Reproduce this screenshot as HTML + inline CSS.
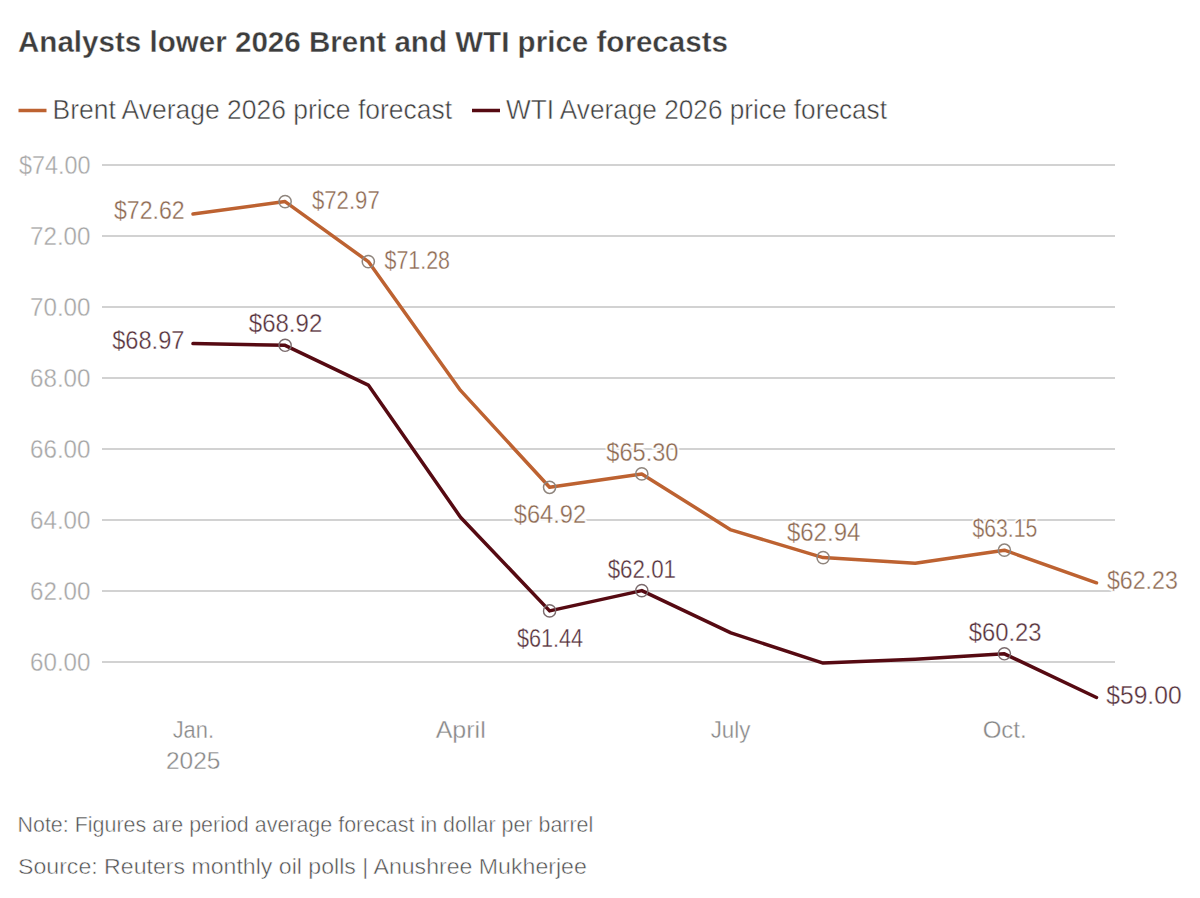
<!DOCTYPE html><html><head><meta charset="utf-8"><style>html,body{margin:0;padding:0;background:#fff;width:1200px;height:898px;overflow:hidden}svg{display:block}text{font-family:"Liberation Sans",sans-serif}</style></head><body>
<svg width="1200" height="898" viewBox="0 0 1200 898">
<rect width="1200" height="898" fill="#fff"/>
<line x1="102" y1="662.0" x2="1115" y2="662.0" stroke="#d2d2d2" stroke-width="2"/>
<line x1="102" y1="591.0" x2="1115" y2="591.0" stroke="#d2d2d2" stroke-width="2"/>
<line x1="102" y1="520.0" x2="1115" y2="520.0" stroke="#d2d2d2" stroke-width="2"/>
<line x1="102" y1="449.0" x2="1115" y2="449.0" stroke="#d2d2d2" stroke-width="2"/>
<line x1="102" y1="378.0" x2="1115" y2="378.0" stroke="#d2d2d2" stroke-width="2"/>
<line x1="102" y1="307.0" x2="1115" y2="307.0" stroke="#d2d2d2" stroke-width="2"/>
<line x1="102" y1="236.0" x2="1115" y2="236.0" stroke="#d2d2d2" stroke-width="2"/>
<line x1="102" y1="165.0" x2="1115" y2="165.0" stroke="#d2d2d2" stroke-width="2"/>
<line x1="18.5" y1="110.5" x2="46.5" y2="110.5" stroke="#bd6231" stroke-width="3.5"/>
<line x1="472" y1="110.5" x2="500" y2="110.5" stroke="#560a12" stroke-width="3.5"/>
<polyline points="193.0,343.6 285.1,345.3 368.3,385.1 460.5,517.2 549.6,610.9 641.8,590.6 730.9,632.9 823.1,663.1 915.2,659.2 1004.4,653.8 1096.5,697.5" fill="none" stroke="#560a12" stroke-width="3.5" stroke-linejoin="round" stroke-linecap="round"/>
<polyline points="193.0,214.0 285.1,201.6 368.3,261.6 460.5,390.4 549.6,487.3 641.8,473.9 730.9,529.9 823.1,557.6 915.2,563.3 1004.4,550.2 1096.5,582.8" fill="none" stroke="#bd6231" stroke-width="3.5" stroke-linejoin="round" stroke-linecap="round"/>
<circle cx="285.1" cy="201.6" r="6.1" fill="none" stroke="#8f857d" stroke-width="1.5"/>
<circle cx="368.3" cy="261.6" r="6.1" fill="none" stroke="#8f857d" stroke-width="1.5"/>
<circle cx="549.6" cy="487.3" r="6.1" fill="none" stroke="#8f857d" stroke-width="1.5"/>
<circle cx="641.8" cy="473.9" r="6.1" fill="none" stroke="#8f857d" stroke-width="1.5"/>
<circle cx="823.1" cy="557.6" r="6.1" fill="none" stroke="#8f857d" stroke-width="1.5"/>
<circle cx="1004.4" cy="550.2" r="6.1" fill="none" stroke="#8f857d" stroke-width="1.5"/>
<circle cx="285.1" cy="345.3" r="6.1" fill="none" stroke="#7a6a6c" stroke-width="1.4"/>
<circle cx="549.6" cy="610.9" r="6.1" fill="none" stroke="#7a6a6c" stroke-width="1.4"/>
<circle cx="641.8" cy="590.6" r="6.1" fill="none" stroke="#7a6a6c" stroke-width="1.4"/>
<circle cx="1004.4" cy="653.8" r="6.1" fill="none" stroke="#7a6a6c" stroke-width="1.4"/>
<text x="18" y="52" font-weight="bold" font-size="30" textLength="710" lengthAdjust="spacingAndGlyphs" fill="#3d3d3d" stroke="#fff" stroke-width="0.35">Analysts lower 2026 Brent and WTI price forecasts</text>
<text x="52.5" y="119" font-weight="normal" font-size="27.5" textLength="399.5" lengthAdjust="spacingAndGlyphs" fill="#3e3e3e" stroke="#fff" stroke-width="0.5">Brent Average 2026 price forecast</text>
<text x="506" y="119" font-weight="normal" font-size="27.5" textLength="381" lengthAdjust="spacingAndGlyphs" fill="#3e3e3e" stroke="#fff" stroke-width="0.5">WTI Average 2026 price forecast</text>
<text x="19" y="173.5" font-weight="normal" font-size="25" textLength="71.5" lengthAdjust="spacingAndGlyphs" fill="#a6a6a6" stroke="#fff" stroke-width="0.35">$74.00</text>
<text x="30" y="244.5" font-weight="normal" font-size="25" textLength="60.5" lengthAdjust="spacingAndGlyphs" fill="#a6a6a6" stroke="#fff" stroke-width="0.35">72.00</text>
<text x="30" y="315.5" font-weight="normal" font-size="25" textLength="60.5" lengthAdjust="spacingAndGlyphs" fill="#a6a6a6" stroke="#fff" stroke-width="0.35">70.00</text>
<text x="30" y="386.5" font-weight="normal" font-size="25" textLength="60.5" lengthAdjust="spacingAndGlyphs" fill="#a6a6a6" stroke="#fff" stroke-width="0.35">68.00</text>
<text x="30" y="457.5" font-weight="normal" font-size="25" textLength="60.5" lengthAdjust="spacingAndGlyphs" fill="#a6a6a6" stroke="#fff" stroke-width="0.35">66.00</text>
<text x="30" y="528.5" font-weight="normal" font-size="25" textLength="60.5" lengthAdjust="spacingAndGlyphs" fill="#a6a6a6" stroke="#fff" stroke-width="0.35">64.00</text>
<text x="30" y="599.5" font-weight="normal" font-size="25" textLength="60.5" lengthAdjust="spacingAndGlyphs" fill="#a6a6a6" stroke="#fff" stroke-width="0.35">62.00</text>
<text x="30" y="670.5" font-weight="normal" font-size="25" textLength="60.5" lengthAdjust="spacingAndGlyphs" fill="#a6a6a6" stroke="#fff" stroke-width="0.35">60.00</text>
<text x="172.7" y="738" font-weight="normal" font-size="24.5" textLength="41.3" lengthAdjust="spacingAndGlyphs" fill="#878787" stroke="#fff" stroke-width="0.35">Jan.</text>
<text x="166" y="768.75" font-weight="normal" font-size="24.5" textLength="54.4" lengthAdjust="spacingAndGlyphs" fill="#878787" stroke="#fff" stroke-width="0.35">2025</text>
<text x="435.7" y="737.7" font-weight="normal" font-size="24.5" textLength="50.0" lengthAdjust="spacingAndGlyphs" fill="#878787" stroke="#fff" stroke-width="0.35">April</text>
<text x="710.7" y="738" font-weight="normal" font-size="24.5" textLength="39.6" lengthAdjust="spacingAndGlyphs" fill="#878787" stroke="#fff" stroke-width="0.35">July</text>
<text x="982.7" y="738" font-weight="normal" font-size="24.5" textLength="44.0" lengthAdjust="spacingAndGlyphs" fill="#878787" stroke="#fff" stroke-width="0.35">Oct.</text>
<text x="17.5" y="832.1" font-weight="normal" font-size="22.7" textLength="575.8" lengthAdjust="spacingAndGlyphs" fill="#4e4e4e" stroke="#fff" stroke-width="0.5">Note: Figures are period average forecast in dollar per barrel</text>
<text x="18" y="873.7" font-weight="normal" font-size="22.7" textLength="568.8" lengthAdjust="spacingAndGlyphs" fill="#4e4e4e" stroke="#fff" stroke-width="0.5">Source: Reuters monthly oil polls | Anushree Mukherjee</text>
<text x="114" y="219" font-weight="normal" font-size="25.5" textLength="70.7" lengthAdjust="spacingAndGlyphs" fill="#fff" stroke="#fff" stroke-opacity="0.85" stroke-width="4" stroke-linejoin="round">$72.62</text>
<text x="114" y="219" font-weight="normal" font-size="25.5" textLength="70.7" lengthAdjust="spacingAndGlyphs" fill="#8c6850" stroke="#fff" stroke-width="0.35">$72.62</text>
<text x="312" y="208.7" font-weight="normal" font-size="25.5" textLength="67.7" lengthAdjust="spacingAndGlyphs" fill="#fff" stroke="#fff" stroke-opacity="0.85" stroke-width="4" stroke-linejoin="round">$72.97</text>
<text x="312" y="208.7" font-weight="normal" font-size="25.5" textLength="67.7" lengthAdjust="spacingAndGlyphs" fill="#8c6850" stroke="#fff" stroke-width="0.35">$72.97</text>
<text x="384.5" y="269" font-weight="normal" font-size="25.5" textLength="65.5" lengthAdjust="spacingAndGlyphs" fill="#fff" stroke="#fff" stroke-opacity="0.85" stroke-width="4" stroke-linejoin="round">$71.28</text>
<text x="384.5" y="269" font-weight="normal" font-size="25.5" textLength="65.5" lengthAdjust="spacingAndGlyphs" fill="#8c6850" stroke="#fff" stroke-width="0.35">$71.28</text>
<text x="513.8" y="522.5" font-weight="normal" font-size="25.5" textLength="72.4" lengthAdjust="spacingAndGlyphs" fill="#fff" stroke="#fff" stroke-opacity="0.85" stroke-width="4" stroke-linejoin="round">$64.92</text>
<text x="513.8" y="522.5" font-weight="normal" font-size="25.5" textLength="72.4" lengthAdjust="spacingAndGlyphs" fill="#8c6850" stroke="#fff" stroke-width="0.35">$64.92</text>
<text x="606.3" y="460.8" font-weight="normal" font-size="25.5" textLength="72.2" lengthAdjust="spacingAndGlyphs" fill="#fff" stroke="#fff" stroke-opacity="0.85" stroke-width="4" stroke-linejoin="round">$65.30</text>
<text x="606.3" y="460.8" font-weight="normal" font-size="25.5" textLength="72.2" lengthAdjust="spacingAndGlyphs" fill="#8c6850" stroke="#fff" stroke-width="0.35">$65.30</text>
<text x="786.9" y="540.8" font-weight="normal" font-size="25.5" textLength="73.5" lengthAdjust="spacingAndGlyphs" fill="#fff" stroke="#fff" stroke-opacity="0.85" stroke-width="4" stroke-linejoin="round">$62.94</text>
<text x="786.9" y="540.8" font-weight="normal" font-size="25.5" textLength="73.5" lengthAdjust="spacingAndGlyphs" fill="#8c6850" stroke="#fff" stroke-width="0.35">$62.94</text>
<text x="972.5" y="537" font-weight="normal" font-size="25.5" textLength="64.8" lengthAdjust="spacingAndGlyphs" fill="#fff" stroke="#fff" stroke-opacity="0.85" stroke-width="4" stroke-linejoin="round">$63.15</text>
<text x="972.5" y="537" font-weight="normal" font-size="25.5" textLength="64.8" lengthAdjust="spacingAndGlyphs" fill="#8c6850" stroke="#fff" stroke-width="0.35">$63.15</text>
<text x="1106.9" y="588.75" font-weight="normal" font-size="25.5" textLength="71.0" lengthAdjust="spacingAndGlyphs" fill="#fff" stroke="#fff" stroke-opacity="0.85" stroke-width="4" stroke-linejoin="round">$62.23</text>
<text x="1106.9" y="588.75" font-weight="normal" font-size="25.5" textLength="71.0" lengthAdjust="spacingAndGlyphs" fill="#8c6850" stroke="#fff" stroke-width="0.35">$62.23</text>
<text x="112.2" y="348.5" font-weight="normal" font-size="25.5" textLength="72.3" lengthAdjust="spacingAndGlyphs" fill="#fff" stroke="#fff" stroke-opacity="0.85" stroke-width="4" stroke-linejoin="round">$68.97</text>
<text x="112.2" y="348.5" font-weight="normal" font-size="25.5" textLength="72.3" lengthAdjust="spacingAndGlyphs" fill="#55303a" stroke="#fff" stroke-width="0.35">$68.97</text>
<text x="248.8" y="332.1" font-weight="normal" font-size="25.5" textLength="73.45" lengthAdjust="spacingAndGlyphs" fill="#fff" stroke="#fff" stroke-opacity="0.85" stroke-width="4" stroke-linejoin="round">$68.92</text>
<text x="248.8" y="332.1" font-weight="normal" font-size="25.5" textLength="73.45" lengthAdjust="spacingAndGlyphs" fill="#55303a" stroke="#fff" stroke-width="0.35">$68.92</text>
<text x="516.9" y="646.7" font-weight="normal" font-size="25.5" textLength="66.2" lengthAdjust="spacingAndGlyphs" fill="#fff" stroke="#fff" stroke-opacity="0.85" stroke-width="4" stroke-linejoin="round">$61.44</text>
<text x="516.9" y="646.7" font-weight="normal" font-size="25.5" textLength="66.2" lengthAdjust="spacingAndGlyphs" fill="#55303a" stroke="#fff" stroke-width="0.35">$61.44</text>
<text x="607.7" y="577.5" font-weight="normal" font-size="25.5" textLength="68.3" lengthAdjust="spacingAndGlyphs" fill="#fff" stroke="#fff" stroke-opacity="0.85" stroke-width="4" stroke-linejoin="round">$62.01</text>
<text x="607.7" y="577.5" font-weight="normal" font-size="25.5" textLength="68.3" lengthAdjust="spacingAndGlyphs" fill="#55303a" stroke="#fff" stroke-width="0.35">$62.01</text>
<text x="968.75" y="640.8" font-weight="normal" font-size="25.5" textLength="72.85" lengthAdjust="spacingAndGlyphs" fill="#fff" stroke="#fff" stroke-opacity="0.85" stroke-width="4" stroke-linejoin="round">$60.23</text>
<text x="968.75" y="640.8" font-weight="normal" font-size="25.5" textLength="72.85" lengthAdjust="spacingAndGlyphs" fill="#55303a" stroke="#fff" stroke-width="0.35">$60.23</text>
<text x="1106.3" y="703.75" font-weight="normal" font-size="25.5" textLength="75.3" lengthAdjust="spacingAndGlyphs" fill="#fff" stroke="#fff" stroke-opacity="0.85" stroke-width="4" stroke-linejoin="round">$59.00</text>
<text x="1106.3" y="703.75" font-weight="normal" font-size="25.5" textLength="75.3" lengthAdjust="spacingAndGlyphs" fill="#55303a" stroke="#fff" stroke-width="0.35">$59.00</text>
</svg></body></html>
